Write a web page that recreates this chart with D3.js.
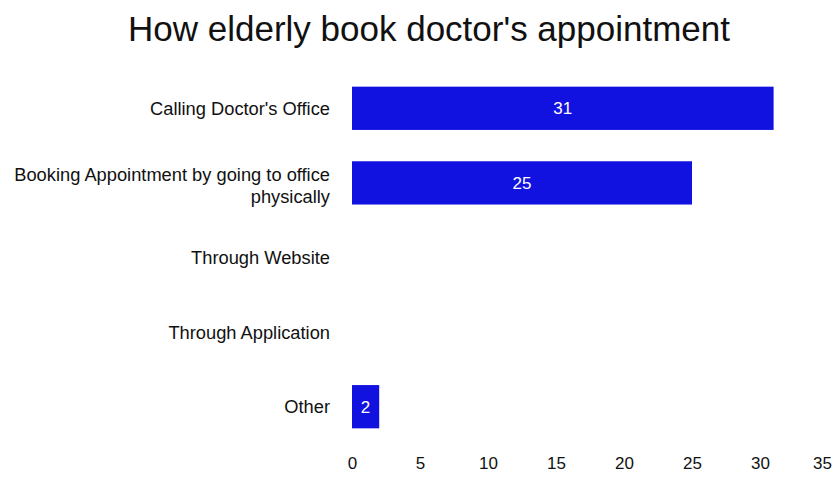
<!DOCTYPE html>
<html>
<head>
<meta charset="utf-8">
<script src="https://cdn.jsdelivr.net/npm/d3@7"></script>
<style>
  body { margin: 0; background: #fff; }
  text { font-family: "Liberation Sans", Arial, sans-serif; }
</style>
</head>
<body>
<div id="chart"></div>
<script>
const categories = [
    ["Calling Doctor's Office"],
    ["Booking Appointment by going to office", "physically"],
    ["Through Website"],
    ["Through Application"],
    ["Other"]
];
const values = [31, 25, 0, 0, 2];
const xTicks = [0, 5, 10, 15, 20, 25, 30, 35];

const width = 835, height = 504;

const svg = d3.select('#chart')
    .append('svg')
    .attr('width', width)
    .attr('height', height);

// title
svg.append('text')
    .attr('x', 429)
    .attr('y', 41)
    .attr('text-anchor', 'middle')
    .attr('font-size', '35px')
    .attr('fill', '#111')
    .text("How elderly book doctor's appointment");

const x = d3.scaleLinear()
    .domain([0, 35])
    .range([352, 828]);

const y = d3.scaleBand()
    .domain(d3.range(categories.length))
    .range([71, 444])
    .paddingInner(0.42)
    .paddingOuter(0.21);

// bars
svg.selectAll('rect.bar')
    .data(values)
    .join('rect')
    .attr('class', 'bar')
    .attr('x', x(0))
    .attr('y', (d, i) => y(i))
    .attr('width', d => x(d) - x(0))
    .attr('height', y.bandwidth())
    .attr('fill', '#1212e0');

// value labels
svg.selectAll('text.val')
    .data(values.map((v, i) => ({v, i})).filter(d => d.v > 0))
    .join('text')
    .attr('class', 'val')
    .attr('x', d => (x(0) + x(d.v)) / 2)
    .attr('y', d => y(d.i) + y.bandwidth() / 2)
    .attr('dy', '0.35em')
    .attr('text-anchor', 'middle')
    .attr('font-size', '17px')
    .attr('fill', '#fff')
    .text(d => d.v);

// category labels (wrapped ones sit a bit low, like the original)
const cat = svg.selectAll('text.cat')
    .data(categories)
    .join('text')
    .attr('class', 'cat')
    .attr('text-anchor', 'end')
    .attr('font-size', '18.3px')
    .attr('fill', '#111');

cat.each(function (lines, i) {
    const c = y(i) + y.bandwidth() / 2;
    const lh = 22;
    const start = c - (lines.length - 1) * lh / 2 + (lines.length > 1 ? 3 : 0);
    d3.select(this).selectAll('tspan')
        .data(lines)
        .join('tspan')
        .attr('x', 330)
        .attr('y', (l, j) => start + j * lh)
        .attr('dy', '0.35em')
        .text(l => l);
});

// x axis (labels only)
const xAxis = svg.append('g')
    .attr('transform', 'translate(0, 457)')
    .call(d3.axisBottom(x).tickValues(xTicks).tickSize(0).tickPadding(0));
xAxis.select('.domain').remove();
xAxis.selectAll('text')
    .attr('font-size', '17px')
    .attr('fill', '#111')
    .attr('font-family', '"Liberation Sans", Arial, sans-serif');
xAxis.selectAll('.tick').filter(d => d === 35).select('text').attr('dx', '-6');
</script>
</body>
</html>
